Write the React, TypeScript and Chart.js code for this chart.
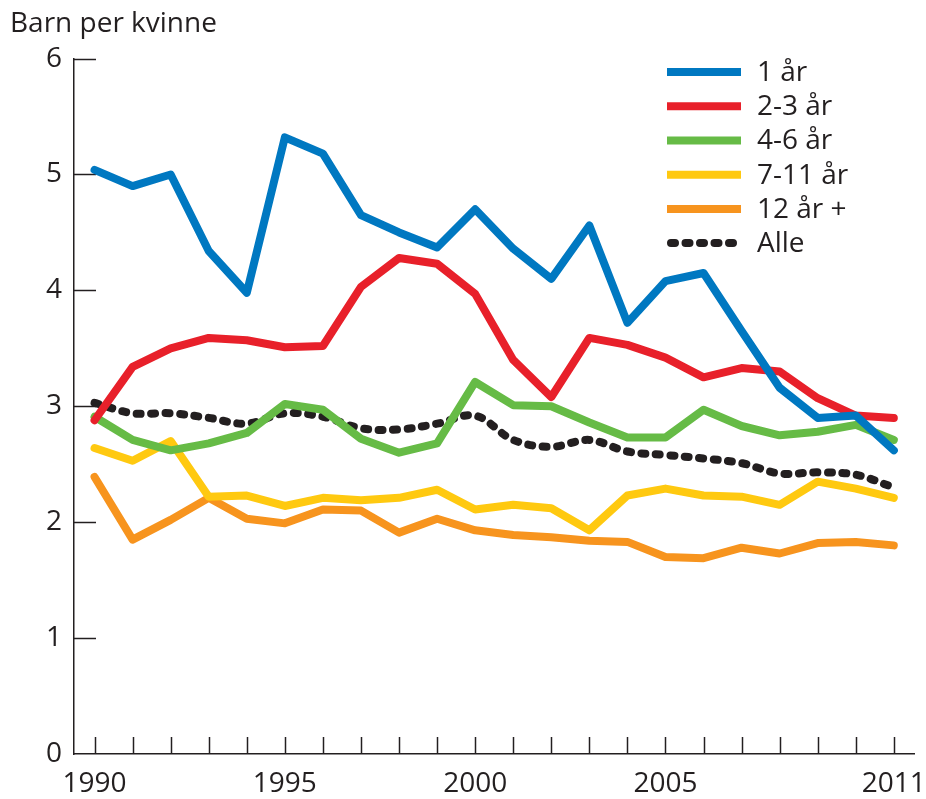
import React, { useEffect, useRef } from "react";
import { Chart, registerables } from "chart.js";

Chart.register(...registerables);

const years = [1990, 1991, 1992, 1993, 1994, 1995, 1996, 1997, 1998, 1999, 2000, 2001, 2002, 2003, 2004, 2005, 2006, 2007, 2008, 2009, 2010, 2011];
const labeledYears = [1990, 1995, 2000, 2005, 2011];
const yTickValues = [0, 1, 2, 3, 4, 5, 6];
const yTitle = "Barn per kvinne";

const seriesNames = ["1 år", "2-3 år", "4-6 år", "7-11 år", "12 år +", "Alle"];

const ettAar = [5.04, 4.9, 5.0, 4.34, 3.98, 5.32, 5.18, 4.65, 4.5, 4.37, 4.7, 4.36, 4.1, 4.56, 3.72, 4.08, 4.15, 3.65, 3.16, 2.9, 2.92, 2.62];
const toTreAar = [2.88, 3.34, 3.5, 3.59, 3.57, 3.51, 3.52, 4.03, 4.28, 4.23, 3.97, 3.4, 3.08, 3.59, 3.53, 3.42, 3.25, 3.33, 3.3, 3.07, 2.92, 2.9];
const fireSeksAar = [2.91, 2.71, 2.62, 2.68, 2.77, 3.02, 2.97, 2.72, 2.6, 2.68, 3.21, 3.01, 3.0, 2.86, 2.73, 2.73, 2.97, 2.83, 2.75, 2.78, 2.84, 2.71];
const syvElleveAar = [2.64, 2.53, 2.7, 2.22, 2.23, 2.14, 2.21, 2.19, 2.21, 2.28, 2.11, 2.15, 2.12, 1.93, 2.23, 2.29, 2.23, 2.22, 2.15, 2.35, 2.29, 2.21];
const tolvPlus = [2.39, 1.85, 2.02, 2.21, 2.03, 1.99, 2.11, 2.1, 1.91, 2.03, 1.93, 1.89, 1.87, 1.84, 1.83, 1.7, 1.69, 1.78, 1.73, 1.82, 1.83, 1.8];
const alle = [3.03, 2.94, 2.94, 2.9, 2.85, 2.94, 2.91, 2.81, 2.8, 2.85, 2.92, 2.71, 2.65, 2.71, 2.61, 2.58, 2.55, 2.51, 2.42, 2.43, 2.41, 2.3];

const seriesValues = [ettAar, toTreAar, fireSeksAar, syvElleveAar, tolvPlus, alle];
const seriesColors = ["#0078c1", "#e8202a", "#66bb46", "#ffc910", "#f7941e", "#231f20"];

const TEXT = "#231f20";
const FONT = "'Open Sans', 'Noto Sans', sans-serif";

const inwardTicks = {
  id: "inwardTicks",
  beforeDatasetsDraw(chart: any) {
    const { ctx } = chart;
    const xs = chart.scales.x;
    const ys = chart.scales.y;
    ctx.save();
    ctx.strokeStyle = TEXT;
    ctx.lineWidth = 1.5;
    xs.ticks.forEach((t: any) => {
      const px = Math.round(xs.getPixelForValue(t.value)) + 0.5;
      ctx.beginPath();
      ctx.moveTo(px, xs.top);
      ctx.lineTo(px, xs.top - 17);
      ctx.stroke();
    });
    ys.ticks.forEach((t: any) => {
      if (t.value === 0) return;
      const py = Math.round(ys.getPixelForValue(t.value)) + 0.5;
      ctx.beginPath();
      ctx.moveTo(ys.right, py);
      ctx.lineTo(ys.right + 22, py);
      ctx.stroke();
    });
    ctx.restore();
  },
};

const insideLegend = {
  id: "insideLegend",
  afterDraw(chart: any) {
    const { ctx, chartArea } = chart;
    const x0 = chartArea.right - 247;
    const x1 = x0 + 74;
    const tx = x0 + 90;
    let yy = chartArea.top + 13.5;
    ctx.save();
    chart.data.datasets.forEach((ds: any) => {
      ctx.beginPath();
      ctx.strokeStyle = ds.borderColor;
      ctx.lineWidth = ds.borderWidth;
      const dash = ds.borderDash || [];
      ctx.setLineDash(dash);
      ctx.lineCap = dash.length ? "round" : "butt";
      ctx.moveTo(x0 + (dash.length ? 4 : 0), yy);
      ctx.lineTo(x1 - (dash.length ? 4 : 0), yy);
      ctx.stroke();
      ctx.setLineDash([]);
      ctx.fillStyle = TEXT;
      ctx.font = `28px ${FONT}`;
      ctx.textBaseline = "middle";
      ctx.textAlign = "left";
      ctx.fillText(ds.label, tx, yy + 1);
      yy += 34.2;
    });
    ctx.restore();
  },
};

export default function App() {
  const canvasRef = useRef<HTMLCanvasElement | null>(null);

  useEffect(() => {
    document.body.style.margin = "0";
    const canvas = canvasRef.current;
    if (!canvas) return;

    const datasets = seriesNames.map((name, i) => {
      const isAlle = i === seriesNames.length - 1;
      return {
        label: name,
        data: years.map((yr, j) => ({ x: yr, y: seriesValues[i][j] })),
        borderColor: seriesColors[i],
        backgroundColor: seriesColors[i],
        borderWidth: 8,
        pointRadius: 0,
        pointHoverRadius: 0,
        tension: isAlle ? 0.35 : 0,
        borderDash: isAlle ? [4, 10.5] : undefined,
        borderCapStyle: "round",
        borderJoinStyle: "round",
        fill: false,
        order: i,
      };
    });

    const chart = new Chart(canvas, {
      type: "line",
      data: { datasets: datasets as any },
      plugins: [inwardTicks, insideLegend],
      options: {
        animation: false,
        responsive: false,
        maintainAspectRatio: false,
        layout: { padding: { left: 10, right: 12, top: 0, bottom: 0 } },
        plugins: {
          legend: { display: false },
          tooltip: { enabled: false },
          title: {
            display: true,
            text: yTitle,
            align: "start",
            color: TEXT,
            font: { family: FONT, size: 28, weight: "normal" as any },
            padding: { top: 7, bottom: 18 },
          },
        },
        scales: {
          x: {
            type: "linear",
            min: 1989.46,
            max: 2011.53,
            grid: { display: false, drawTicks: false },
            border: { display: true, color: TEXT, width: 1.5 },
            afterBuildTicks: (scale: any) => {
              scale.ticks = years.map((v) => ({ value: v }));
            },
            afterFit: (scale: any) => {
              scale.height = 45;
              scale.paddingLeft = 0;
              scale.paddingRight = 0;
            },
            ticks: {
              autoSkip: false,
              maxRotation: 0,
              minRotation: 0,
              padding: 16,
              color: TEXT,
              font: { family: FONT, size: 28, lineHeight: 1 },
              callback: (v: any) => (labeledYears.includes(Number(v)) ? String(v) : ""),
            },
          },
          y: {
            type: "linear",
            min: 0,
            max: 6,
            grid: { display: false, drawTicks: false },
            border: { display: true, color: TEXT, width: 1.5 },
            afterBuildTicks: (scale: any) => {
              scale.ticks = yTickValues.map((v) => ({ value: v }));
            },
            afterFit: (scale: any) => {
              scale.width = 64;
              scale.paddingTop = 0;
              scale.paddingBottom = 0;
            },
            ticks: {
              padding: 12,
              color: TEXT,
              font: { family: FONT, size: 28 },
              callback: (v: any) => String(v),
            },
          },
        },
      } as any,
    });

    return () => {
      chart.destroy();
    };
  }, []);

  return (
    <div style={{ width: 926, height: 799 }}>
      <canvas ref={canvasRef} width={926} height={799} style={{ display: "block", width: 926, height: 799 }} />
    </div>
  );
}
